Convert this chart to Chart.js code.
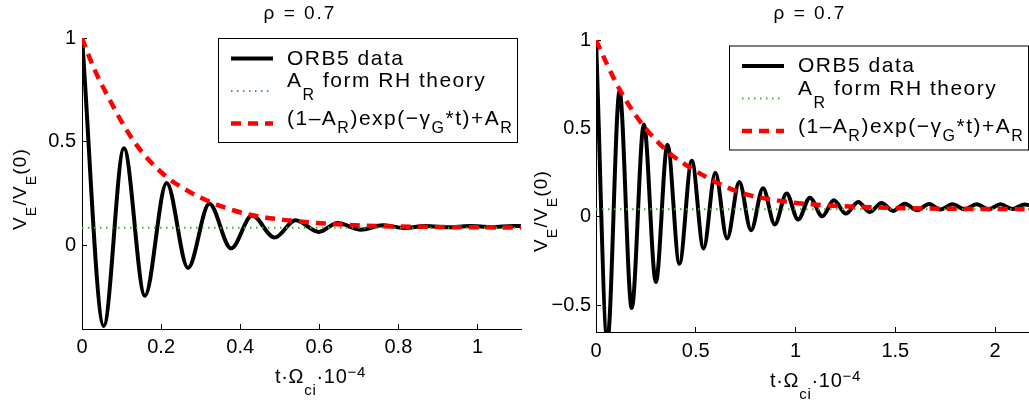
<!DOCTYPE html>
<html>
<head>
<meta charset="utf-8">
<script src="https://cdn.jsdelivr.net/npm/chart.js@4.4.1/dist/chart.umd.min.js"></script>
<style>
  html, body { margin: 0; padding: 0; background: #fff; }
  #wrap { position: relative; width: 1029px; height: 403px; overflow: hidden; }
  canvas { position: absolute; top: 0; }
  #left { left: 0; }
  #right { left: 522px; }
</style>
</head>
<body>
<div id="wrap">
  <canvas id="left" width="522" height="403"></canvas>
  <canvas id="right" width="507" height="403"></canvas>
</div>
<script>
// ---- data ----
// left panel (rho = 0.7, short run)
const leftOrbT = [0, 0.055, 0.106, 0.159, 0.214, 0.268, 0.322, 0.377, 0.430, 0.487, 0.540, 0.599, 0.646, 0.705, 0.760, 0.814, 0.870, 0.925, 0.980, 1.035, 1.090, 1.11];
const leftOrbV = [1.0, -0.385, 0.47, -0.24, 0.303, -0.106, 0.202, -0.012, 0.146, 0.040, 0.123, 0.067, 0.110, 0.078, 0.099, 0.086, 0.096, 0.089, 0.095, 0.091, 0.096, 0.095];
const leftExpT = [0, 0.03, 0.072, 0.114, 0.156, 0.215, 0.266, 0.316, 0.384, 0.435, 0.51, 0.595, 0.72, 0.89, 1.11];
const leftExpV = [1.0, 0.855, 0.696, 0.553, 0.441, 0.330, 0.266, 0.218, 0.170, 0.146, 0.125, 0.110, 0.097, 0.091, 0.088];
const leftArT = [0, 1.11];
const leftArV = [0.087, 0.087];
const leftXTicks = [0, 0.2, 0.4, 0.6, 0.8, 1];
const leftYTicks = [0, 0.5, 1];

// right panel (rho = 0.7, long run)
const rightOrbT = [0, 0.057, 0.118, 0.179, 0.240, 0.300, 0.358, 0.418, 0.480, 0.539, 0.598, 0.657, 0.718, 0.777, 0.837, 0.896, 0.955, 1.013, 1.072, 1.134, 1.192, 1.252, 1.314, 1.372, 1.431, 1.489, 1.548, 1.609, 1.669, 1.726, 1.786, 1.848, 1.907, 1.968, 2.027, 2.087, 2.146, 2.17];
const rightOrbV = [1.0, -0.70, 0.71, -0.515, 0.523, -0.368, 0.408, -0.264, 0.318, -0.178, 0.25, -0.122, 0.198, -0.075, 0.162, -0.042, 0.132, -0.015, 0.109, 0.004, 0.094, 0.019, 0.085, 0.028, 0.079, 0.034, 0.075, 0.038, 0.073, 0.042, 0.072, 0.043, 0.072, 0.044, 0.072, 0.045, 0.071, 0.066];
const rightExpT = [0, 0.053, 0.120, 0.204, 0.270, 0.371, 0.479, 0.599, 0.738, 0.905, 1.072, 1.322, 1.656, 2.17];
const rightExpV = [1.0, 0.868, 0.717, 0.566, 0.472, 0.358, 0.274, 0.198, 0.132, 0.094, 0.072, 0.057, 0.048, 0.044];
const rightArT = [0, 2.17];
const rightArV = [0.044, 0.044];
const rightXTicks = [0, 0.5, 1, 1.5, 2];
const rightYTicks = [-0.5, 0, 0.5, 1];

const titleText = 'ρ = 0.7';
const legendRows = [
  [{ t: 'ORB5 data' }],
  [{ t: 'A' }, { t: 'R', dy: 13 }, { t: ' form RH theory' }],
  [{ t: '(1–A' }, { t: 'R', dy: 8 }, { t: ')exp(−γ' }, { t: 'G', dy: 8 }, { t: '*t)+A' }, { t: 'R', dy: 8 }],
];
const xLabelRuns = [{ t: 't·Ω' }, { t: 'ci', dy: 12 }, { t: '·10' }, { t: '−4', dy: -6 }];
const yLabelRuns = [{ t: 'V' }, { t: 'E', dy: 10 }, { t: '/V' }, { t: 'E', dy: 10 }, { t: '(0)' }];

const FAM = '"Liberation Sans", Arial, Helvetica, sans-serif';
const styles = {
  orb: { color: '#000000', width: 4, dash: [] },
  ar: { color: '#3fae3f', width: 2, dash: [1.5, 4.5] },
  exp: { color: '#ff0000', width: 4.5, dash: [10, 7] },
};

const pts = (xs, ys) => xs.map((x, i) => ({ x, y: ys[i] }));

// draw a run of text pieces with sub/superscripts, returns end x
function runs(ctx, x, y, list, size, subSize, spacing) {
  ctx.letterSpacing = spacing + 'px';
  list.forEach(r => {
    ctx.font = (r.dy ? subSize : size) + 'px ' + FAM;
    ctx.fillText(r.t, x, y + (r.dy || 0));
    x += ctx.measureText(r.t).width;
  });
  return x;
}

const decor = {
  id: 'decor',
  afterDraw(chart, args, o) {
    const ctx = chart.ctx;
    ctx.save();
    ctx.fillStyle = '#000';
    ctx.textBaseline = 'alphabetic';
    ctx.textAlign = 'left';

    // title
    ctx.font = '19px ' + FAM;
    ctx.letterSpacing = '2px';
    const tw = ctx.measureText(titleText).width;
    ctx.fillText(titleText, o.titleX - tw / 2, o.titleY);

    // x label
    runs(ctx, o.xLabX, o.xLabY, xLabelRuns, 20, 15, 0.7);

    // y label (rotated)
    ctx.save();
    ctx.translate(o.yLabX, o.yLabY);
    ctx.rotate(-Math.PI / 2);
    runs(ctx, 0, 0, yLabelRuns, 19, 14, 1.2);
    ctx.restore();

    // legend box
    const lx = o.legX, ly = o.legY;
    ctx.fillStyle = '#fff';
    ctx.fillRect(lx, ly, 299, 104);
    ctx.strokeStyle = '#000';
    ctx.lineWidth = 1;
    ctx.setLineDash([]);
    ctx.strokeRect(lx + 0.5, ly + 0.5, 299, 104);

    const keys = ['orb', 'ar', 'exp'];
    const rowY = [20.5, 53, 85.5];
    const baseY = [26.5, 49, 87];
    keys.forEach((k, i) => {
      const s = styles[k];
      ctx.strokeStyle = s.color;
      ctx.lineWidth = s.width;
      ctx.setLineDash(s.dash);
      ctx.beginPath();
      ctx.moveTo(lx + 13, ly + rowY[i]);
      ctx.lineTo(lx + 55, ly + rowY[i]);
      ctx.stroke();
      ctx.fillStyle = '#000';
      runs(ctx, lx + 69, ly + baseY[i], legendRows[i], 21, 16, 1.5);
    });
    ctx.restore();
  }
};

function panel(id, d) {
  const tickFont = { family: FAM, size: 20 };
  const axis = (min, max, ticks, pad, isX, size) => ({
    type: 'linear',
    min, max,
    afterBuildTicks: s => { s.ticks = ticks.map(v => ({ value: v })); },
    afterFit: s => { if (isX) s.height = size; else s.width = size; },
    border: { display: true, color: '#000', width: 1 },
    grid: { drawOnChartArea: false, drawTicks: true, tickLength: -5, color: '#000', lineWidth: 1 },
    ticks: {
      color: '#000', font: tickFont, padding: pad, maxRotation: 0, autoSkip: false,
      callback: v => String(v).replace('-', '\u2212'),
    },
  });
  return new Chart(document.getElementById(id), {
    type: 'line',
    data: {
      datasets: [
        { label: 'exp', data: pts(d.expT, d.expV), borderColor: styles.exp.color, borderWidth: styles.exp.width,
          borderDash: styles.exp.dash, cubicInterpolationMode: 'monotone', order: 0 },
        { label: 'AR', data: pts(d.arT, d.arV), borderColor: styles.ar.color, borderWidth: styles.ar.width,
          borderDash: styles.ar.dash, order: 1 },
        { label: 'ORB5', data: pts(d.orbT, d.orbV), borderColor: styles.orb.color, borderWidth: styles.orb.width,
          cubicInterpolationMode: 'monotone', order: 2 },
      ],
    },
    options: {
      responsive: false, animation: false, devicePixelRatio: 1,
      layout: { padding: { top: d.top, right: d.right, left: 0, bottom: 0 } },
      elements: { point: { radius: 0, hoverRadius: 0 }, line: { fill: false, borderCapStyle: 'butt' } },
      plugins: { legend: { display: false }, tooltip: { enabled: false }, decor: d.decor },
      events: [],
      scales: {
        x: axis(0, d.xMax, d.xTicks, d.padX, true, d.xH),
        y: axis(d.yMin, d.yMax, d.yTicks, d.padY, false, d.yW),
      },
    },
    plugins: [decor],
  });
}

panel('left', {
  orbT: leftOrbT, orbV: leftOrbV, expT: leftExpT, expV: leftExpV, arT: leftArT, arV: leftArV,
  xTicks: leftXTicks, yTicks: leftYTicks, xMax: 1.11, yMin: -0.4, yMax: 1,
  top: 38, right: 1, xH: 74, yW: 82, padX: 11.5, padY: 11,
  decor: { titleX: 300, titleY: 18.5, xLabX: 275, xLabY: 383, yLabX: 26, yLabY: 230, legX: 218, legY: 38 },
});

panel('right', {
  orbT: rightOrbT, orbV: rightOrbV, expT: rightExpT, expV: rightExpV, arT: rightArT, arV: rightArV,
  xTicks: rightXTicks, yTicks: rightYTicks, xMax: 2.17, yMin: -0.65, yMax: 1,
  top: 40, right: 0, xH: 71, yW: 74, padX: 12, padY: 10,
  decor: { titleX: 288, titleY: 18.5, xLabX: 248, xLabY: 387, yLabX: 25, yLabY: 252, legX: 207, legY: 45.5 },
});
</script>
</body>
</html>
